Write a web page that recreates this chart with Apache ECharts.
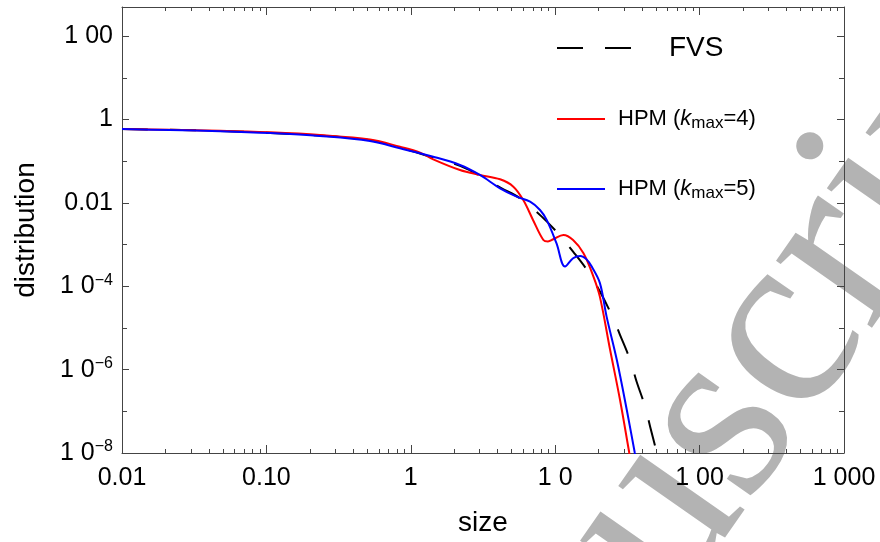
<!DOCTYPE html>
<html>
<head>
<meta charset="utf-8">
<script src="https://cdn.jsdelivr.net/npm/echarts@6/dist/echarts.min.js"></script>
<style>
  html, body { margin: 0; padding: 0; background: #fff; }
  #chart { width: 880px; height: 542px; }
</style>
</head>
<body>
<div id="chart"></div>
<script>
// FVS reference solution (dashed black)
const fvsSize = [0.01, 0.0478, 0.235, 0.521, 0.841, 1.43, 2.19, 2.57, 3.01, 4.26, 5.70, 8.07, 10.7, 13.3, 16.9, 20.4, 24.6, 28.1, 33.0, 36.6, 41.9, 45.4, 50.5, 53.2];
const fvsDist = [0.590, 0.530, 0.412, 0.318, 0.212, 0.121, 0.078, 0.060, 0.0442, 0.0224, 0.0129, 0.00468, 0.00170, 6.78e-4, 2.25e-4, 7.46e-5, 2.06e-5, 6.84e-6, 1.72e-6, 5.2e-7, 1.31e-7, 4.34e-8, 1e-8, 4e-9];

// HPM, k_max = 4 (red)
const hpm4Size = [0.01, 0.0215, 0.0478, 0.106, 0.235, 0.521, 0.841, 1.16, 1.43, 2.19, 3.01, 4.15, 5.13, 6.01, 7.02, 8.28, 8.91, 9.70, 11.4, 13.3, 15.7, 18.4, 20.4, 24.0, 28.1, 32.6, 35.2];
const hpm4Dist = [0.590, 0.565, 0.538, 0.492, 0.425, 0.331, 0.222, 0.161, 0.111, 0.0615, 0.0467, 0.0368, 0.0245, 0.0117, 0.0039, 0.00129, 0.00119, 0.00134, 0.00170, 0.00129, 6.21e-4, 1.71e-4, 5.57e-5, 2.99e-6, 1.89e-7, 1e-8, 2.3e-9];

// HPM, k_max = 5 (blue)
const hpm5Size = [0.01, 0.0215, 0.0478, 0.106, 0.235, 0.521, 0.841, 1.43, 2.19, 3.01, 4.15, 5.41, 6.70, 7.85, 8.73, 10.2, 11.7, 13.3, 14.9, 16.5, 17.9, 20.4, 22.7, 26.7, 31.3, 35.6, 38.6];
const hpm5Dist = [0.590, 0.558, 0.524, 0.473, 0.402, 0.305, 0.204, 0.128, 0.0811, 0.0467, 0.0224, 0.0141, 0.0107, 0.00676, 0.0039, 0.00108, 2.96e-4, 4.71e-4, 5.35e-4, 4.41e-4, 2.96e-4, 1.19e-4, 1.87e-5, 1.72e-6, 1.09e-7, 1e-8, 2.3e-9];

// Axis ticks and labels
const xTickValues = [0.01, 0.1, 1, 10, 100, 1000];
const xTickLabels = ['0.01', '0.10', '1', '1 0', '1 00', '1 000'];
const yTickValues = [1e-8, 1e-6, 1e-4, 0.01, 1, 100];
const yTickLabels = ['1 0{sup|\u22128}', '1 0{sup|\u22126}', '1 0{sup|\u22124}', '0.01', '1', '1 00'];
const yMinorValues = [1e-7, 1e-5, 1e-3, 0.1, 10];
const seriesNames = ['FVS', 'HPM (kmax=4)', 'HPM (kmax=5)'];
const legendLabels = ['FVS', 'HPM ({i|k}{sub|max}=4)', 'HPM ({i|k}{sub|max}=5)'];

// minor ticks at 2..9 within each decade of the size axis
const xMinorValues = [];
xTickValues.slice(0, -1).forEach(d => {
  for (let m = 2; m <= 9; m++) xMinorValues.push(+(d * m).toPrecision(3));
});

const pair = (xs, ys) => xs.map((x, i) => [x, ys[i]]);
const sameVal = (a, b) => Math.abs(Math.log10(a / b)) < 1e-6;

const FONT = '"Liberation Sans", Arial, sans-serif';
const AXIS_COLOR = '#444';
const X_MIN = 0.01, X_MAX = 1000, Y_MIN = 1e-8, Y_MAX = 500;

function xAxisDef(position, values, len, withLabels) {
  return {
    type: 'log', logBase: 10, min: X_MIN, max: X_MAX, position: position,
    axisLine: { show: len > 5, onZero: false, lineStyle: { color: AXIS_COLOR, width: 1 } },
    axisTick: { show: true, inside: true, length: len, customValues: values,
                lineStyle: { color: AXIS_COLOR, width: 1 } },
    axisLabel: withLabels ? {
      show: true, customValues: xTickValues, margin: 13,
      fontFamily: FONT, fontSize: 25, color: '#000',
      formatter: v => { const i = xTickValues.findIndex(t => sameVal(t, v)); return i >= 0 ? xTickLabels[i] : ''; }
    } : { show: false },
    splitLine: { show: false },
    minorTick: { show: false },
    name: withLabels ? 'size' : '',
    nameLocation: 'middle', nameGap: 56,
    nameTextStyle: { fontFamily: FONT, fontSize: 28, color: '#000' }
  };
}

function yAxisDef(position, values, len, withLabels, showLine) {
  return {
    type: 'log', logBase: 10, min: Y_MIN, max: Y_MAX, position: position,
    axisLine: { show: showLine, onZero: false, lineStyle: { color: AXIS_COLOR, width: 1 } },
    axisTick: { show: true, inside: true, length: len, customValues: values,
                lineStyle: { color: AXIS_COLOR, width: 1 } },
    axisLabel: withLabels ? {
      show: true, customValues: yTickValues, margin: 9,
      fontFamily: FONT, fontSize: 25, color: '#000', lineHeight: 28,
      formatter: v => { const i = yTickValues.findIndex(t => sameVal(t, v)); return i >= 0 ? yTickLabels[i] : ''; },
      rich: {
        sup: { fontFamily: FONT, fontSize: 16, lineHeight: 16, verticalAlign: 'top', color: '#000' }
      }
    } : { show: false },
    splitLine: { show: false },
    minorTick: { show: false },
    name: withLabels ? 'distribution' : '',
    nameLocation: 'middle', nameGap: 82,
    nameTextStyle: { fontFamily: FONT, fontSize: 28, color: '#000' }
  };
}

const legendRich = {
  i: { fontFamily: FONT, fontSize: 22, fontStyle: 'italic', lineHeight: 26, color: '#000' },
  sub: { fontFamily: FONT, fontSize: 17, lineHeight: 17, verticalAlign: 'bottom', color: '#000' }
};

const chart = echarts.init(document.getElementById('chart'), null, { renderer: 'canvas' });
chart.setOption({
  animation: false,
  backgroundColor: '#fff',
  grid: { left: 122, top: 7, right: 36, bottom: 89, containLabel: false, outerBoundsMode: 'none' },
  xAxis: [
    xAxisDef('bottom', xTickValues, 8, true),
    xAxisDef('bottom', xMinorValues, 4, false),
    xAxisDef('top', xTickValues, 8, false),
    xAxisDef('top', xMinorValues, 4, false)
  ],
  yAxis: [
    yAxisDef('left', yTickValues, 7, true, true),
    yAxisDef('left', yMinorValues, 5, false, false),
    yAxisDef('right', yTickValues, 7, false, true),
    yAxisDef('right', yMinorValues, 5, false, false)
  ],
  legend: [
    {
      data: [seriesNames[0]], left: 556, top: 34, padding: 0,
      itemWidth: 74, itemHeight: 20,
      itemStyle: { opacity: 0, borderWidth: 0 },
      formatter: n => legendLabels[seriesNames.indexOf(n)],
      textStyle: { fontFamily: FONT, fontSize: 28, color: '#000', padding: [0, 0, 0, 33] }
    },
    {
      data: [seriesNames[1], seriesNames[2]], left: 556, top: 106, padding: 0,
      orient: 'vertical', itemWidth: 48, itemHeight: 20, itemGap: 44,
      itemStyle: { opacity: 0, borderWidth: 0 },
      formatter: n => legendLabels[seriesNames.indexOf(n)],
      textStyle: { fontFamily: FONT, fontSize: 22, lineHeight: 26, color: '#000', padding: [0, 0, 0, 8], rich: legendRich }
    }
  ],
  graphic: [
    {
      // diagonal watermark text behind the plot
      type: 'text', x: 351, y: 955, rotation: 55 * Math.PI / 180,
      z: -10, silent: true,
      style: {
        text: 'Manuscript', font: '255px "Liberation Serif", serif', fill: '#b3b3b3',
        align: 'left', verticalAlign: 'middle', textAlign: 'left', textVerticalAlign: 'middle'
      }
    }
  ],
  series: [
    {
      name: seriesNames[0], type: 'line', xAxisIndex: 0, yAxisIndex: 0,
      data: pair(fvsSize, fvsDist), showSymbol: false, symbol: 'none', smooth: 0.35,
      lineStyle: { color: '#000', width: 2, type: [26, 22] }, itemStyle: { color: '#000' }, z: 2
    },
    {
      name: seriesNames[1], type: 'line', xAxisIndex: 0, yAxisIndex: 0,
      data: pair(hpm4Size, hpm4Dist), showSymbol: false, symbol: 'none', smooth: 0.35,
      lineStyle: { color: '#ff0000', width: 2 }, itemStyle: { color: '#ff0000' }, z: 3
    },
    {
      name: seriesNames[2], type: 'line', xAxisIndex: 0, yAxisIndex: 0,
      data: pair(hpm5Size, hpm5Dist), showSymbol: false, symbol: 'none', smooth: 0.35,
      lineStyle: { color: '#0000ff', width: 2 }, itemStyle: { color: '#0000ff' }, z: 4
    }
  ]
});
</script>
</body>
</html>
